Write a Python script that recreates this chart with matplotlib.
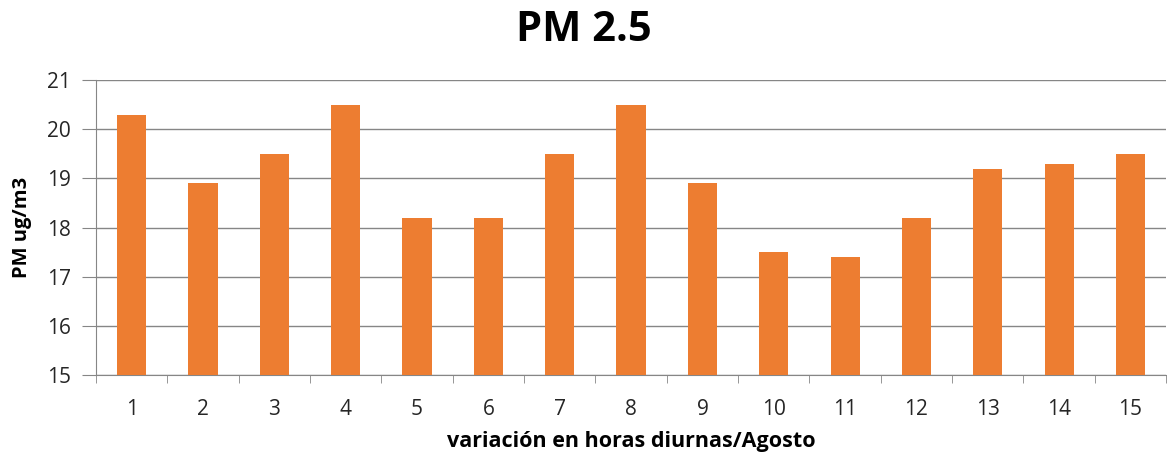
import matplotlib.pyplot as plt

hours = [str(i) for i in range(1, 16)]
pm25 = [20.3, 18.9, 19.5, 20.5, 18.2, 18.2, 19.5, 20.5, 18.9, 17.5, 17.4, 18.2, 19.2, 19.3, 19.5]

plt.rcParams['font.family'] = ['Open Sans', 'DejaVu Sans']

fig = plt.figure(figsize=(11.67, 4.58), dpi=100)
ax = fig.add_axes([0.0823, 0.181, 0.917, 0.644])

x = range(len(hours))
ax.bar(x, pm25, width=0.41, color='#ED7D31', zorder=3)

ax.set_ylim(15, 21)
ax.set_xlim(-0.5, len(hours) - 0.5)
ax.set_yticks(range(15, 22))
ax.set_xticks(list(x))
ax.set_xticklabels(hours)
# category separators on the x axis
ax.set_xticks([i + 0.5 for i in range(-1, len(hours))], minor=True)

ax.grid(axis='y', color='#868686', linewidth=1, zorder=0)
for side in ['top', 'right']:
    ax.spines[side].set_visible(False)
ax.spines['left'].set_color('#868686')
ax.spines['bottom'].set_color('#868686')

ax.tick_params(axis='y', length=10, color='#868686', labelsize=15, pad=8, labelcolor='#262626')
ax.tick_params(axis='x', which='major', length=0, labelsize=15, pad=17, labelcolor='#262626')
ax.tick_params(axis='x', which='minor', length=6, color='#868686')

fig.suptitle('PM 2.5', fontsize=30, fontweight='bold', x=0.5, y=0.978, va='top')
ax.set_ylabel('PM ug/m3', fontsize=14.5, fontweight='bold', labelpad=11)
ax.set_xlabel('variación en horas diurnas/Agosto', fontsize=15.5, fontweight='bold', labelpad=8)

fig.savefig('out.png', dpi=100)
